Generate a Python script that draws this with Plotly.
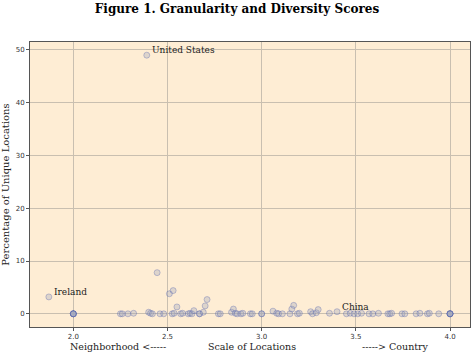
import plotly.graph_objects as go

# Scale of locations (x) and percentage of unique locations (y)
x_scale = [1.87, 2.39, 2.445, 2.51, 2.53, 2.55, 2.70, 2.71, 3.40,
           2.0, 2.0, 2.0, 2.0, 2.0,
           2.25, 2.26, 2.29, 2.32, 2.40, 2.41, 2.42, 2.46, 2.48, 2.525, 2.535,
           2.57, 2.58, 2.61, 2.62, 2.63, 2.64, 2.67, 2.67, 2.69, 2.77, 2.78,
           2.84, 2.85, 2.86, 2.87, 2.89, 2.90, 2.94, 2.95, 3.0, 3.0, 3.06,
           3.08, 3.09, 3.11, 3.15, 3.16, 3.17, 3.19, 3.20, 3.26, 3.27, 3.29,
           3.30, 3.36, 3.45, 3.47, 3.49, 3.51, 3.53, 3.57, 3.59, 3.62, 3.67,
           3.68, 3.69, 3.745, 3.76, 3.82, 3.84, 3.88, 3.89, 3.94,
           4.0, 4.0, 4.0, 4.0, 4.0]
y_pct = [3.2, 49.0, 7.8, 3.8, 4.4, 1.3, 1.5, 2.7, 0.4,
         0.0, 0.0, 0.0, 0.0, 0.0,
         0.0, 0.0, 0.0, 0.1, 0.3, 0.1, 0.0, 0.0, 0.0, 0.0, 0.1,
         0.0, 0.1, 0.0, 0.1, 0.0, 0.6, 0.0, 0.0, 0.3, 0.0, 0.0,
         0.3, 0.9, 0.1, 0.0, 0.0, 0.1, 0.0, 0.0, 0.0, 0.0, 0.5,
         0.1, 0.0, 0.0, 0.0, 0.9, 1.6, 0.0, 0.1, 0.4, 0.0, 0.2,
         0.8, 0.1, 0.0, 0.1, 0.0, 0.0, 0.1, 0.0, 0.0, 0.1, 0.0,
         0.0, 0.1, 0.0, 0.0, 0.0, 0.1, 0.0, 0.1, 0.0,
         0.0, 0.0, 0.0, 0.0, 0.0]

label_names = ["United States", "Ireland", "China"]
label_x = [2.39, 1.87, 3.40]
label_y = [49.0, 3.2, 0.4]

x_ticks = [2.0, 2.5, 3.0, 3.5, 4.0]
y_ticks = [0, 10, 20, 30, 40, 50]

serif = "DejaVu Serif"

fig = go.Figure()
fig.add_trace(go.Scatter(
    x=x_scale, y=y_pct, mode="markers",
    marker=dict(size=6, color="rgba(160,165,190,0.35)",
                line=dict(color="rgba(60,80,170,0.3)", width=1)),
    hoverinfo="skip", showlegend=False))

for name, lx, ly in zip(label_names, label_x, label_y):
    fig.add_annotation(x=lx, y=ly, text=name, showarrow=False,
                       xanchor="left", yanchor="bottom", xshift=3, yshift=-2,
                       font=dict(family=serif, size=9, color="#222"))

fig.update_layout(
    width=474, height=355,
    margin=dict(l=30, r=4, t=42, b=28),
    paper_bgcolor="white",
    plot_bgcolor="#FEEDD4",
    title=dict(text="<b>Figure 1. Granularity and Diversity Scores</b>",
               x=0.5, xanchor="center", y=0.975, yanchor="middle",
               font=dict(family=serif, size=12, color="black")),
    xaxis=dict(range=[1.77, 4.106], tickvals=x_ticks,
               ticktext=[f"{v:.1f}" for v in x_ticks],
               showgrid=True, gridcolor="#c9bfb0", gridwidth=1,
               zeroline=False, showline=True, linecolor="#555", linewidth=1,
               mirror=True, ticks="outside", ticklen=3, tickcolor="#555",
               tickfont=dict(family="DejaVu Sans", size=7, color="#333")),
    yaxis=dict(range=[-2.5, 51.5], tickvals=y_ticks,
               showgrid=True, gridcolor="#c9bfb0", gridwidth=1,
               zeroline=False, showline=True, linecolor="#555", linewidth=1,
               mirror=True, ticks="outside", ticklen=3, tickcolor="#555",
               tickfont=dict(family="DejaVu Sans", size=7, color="#333"),
               title=dict(text="Percentage of Unique Locations", standoff=4,
                          font=dict(family=serif, size=10, color="#222"))),
)

xlabels = ["Neighborhood <-----", "Scale of Locations", "-----> Country"]
xlabel_pos = [0.20, 0.505, 0.83]
for txt, px in zip(xlabels, xlabel_pos):
    fig.add_annotation(x=px, y=-0.067, xref="paper", yref="paper",
                       text=txt, showarrow=False, xanchor="center",
                       yanchor="middle",
                       font=dict(family=serif, size=9.5, color="#222"))

fig.write_html("out.html")
